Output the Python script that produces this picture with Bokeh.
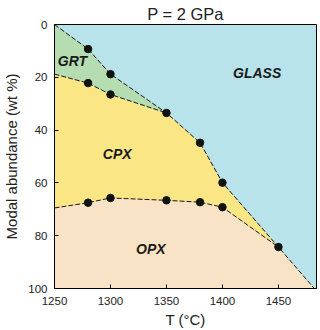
from bokeh.plotting import figure
from bokeh.models import Range1d, FixedTicker, Label
from bokeh.embed import file_html
from bokeh.resources import INLINE

# ---- data ----
# GLASS boundary (upper edge of the solid assemblage)
t_glass = [1250, 1280, 1300, 1350, 1380, 1400, 1450, 1482]
v_glass = [0, 9.3, 18.8, 33.5, 44.8, 59.9, 84.3, 100]
# GRT / CPX boundary
t_grt = [1250, 1280, 1300, 1350]
v_grt = [18.8, 22.2, 26.5, 33.5]
# CPX / OPX boundary
t_opx = [1250, 1280, 1300, 1350, 1380, 1400, 1450]
v_opx = [69.5, 67.5, 65.7, 66.6, 67.3, 69.2, 84.3]

x_ticks = [1250, 1300, 1350, 1400, 1450]
y_ticks = [0, 20, 40, 60, 80, 100]
region_names = ["GRT", "GLASS", "CPX", "OPX"]

C_GLASS = "#b9e3ea"
C_GRT = "#b6dcb2"
C_CPX = "#fbe686"
C_OPX = "#f9e3c6"
FONT = "Liberation Sans"
TXT = "#222222"

p = figure(width=320, height=330, output_backend="svg", toolbar_location=None,
           x_range=Range1d(1250, 1484), y_range=Range1d(100, 0),
           min_border_left=49, min_border_right=4, min_border_top=24,
           min_border_bottom=42, title="P = 2 GPa")
p.title.text_font = FONT
p.title.text_font_size = "16.5px"
p.title.text_font_style = "normal"
p.title.text_color = TXT
p.title.align = "center"
p.title.text_line_height = 0.75
p.title.standoff = 4

p.background_fill_color = C_GLASS
p.border_fill_color = "white"
p.outline_line_color = "black"
p.outline_line_width = 1
p.grid.visible = False

# regions
opx_x = t_opx + [t_glass[-1], t_opx[0]]
opx_y = v_opx + [100, 100]
cpx_x = t_opx + t_glass[5:2:-1] + t_grt[-2::-1]
cpx_y = v_opx + v_glass[5:2:-1] + v_grt[-2::-1]
grt_x = t_grt + t_glass[2::-1]
grt_y = v_grt + v_glass[2::-1]
p.patch(opx_x, opx_y, fill_color=C_OPX, line_color=None)
p.patch(cpx_x, cpx_y, fill_color=C_CPX, line_color=None)
p.patch(grt_x, grt_y, fill_color=C_GRT, line_color=None)

# dashed boundaries
for xs, ys in [(t_glass, v_glass), (t_grt, v_grt), (t_opx, v_opx)]:
    p.line(xs, ys, line_color="black", line_width=0.9, line_dash="5 2")

# data points
p.scatter(t_glass[1:-1], v_glass[1:-1], size=7.5, color="#111111")
p.scatter(t_grt[1:3], v_grt[1:3], size=7.5, color="#111111")
p.scatter(t_opx[1:6], v_opx[1:6], size=7.5, color="#111111")

# region labels
pos = {"GRT": (1266, 13.7), "GLASS": (1431, 18.3), "CPX": (1306, 48.9), "OPX": (1336, 85.1)}
for name in region_names:
    x, y = pos[name]
    p.add_layout(Label(x=x, y=y, text=name, text_font=FONT, text_font_size="14px",
                       text_font_style="bold italic", text_color="#1a1a1a",
                       text_align="center", text_baseline="middle"))

# axes
p.xaxis.ticker = FixedTicker(ticks=x_ticks)
p.yaxis.ticker = FixedTicker(ticks=y_ticks)
p.xaxis.axis_label = "T (°C)"
p.yaxis.axis_label = "Modal abundance (wt %)"
for ax in (p.xaxis[0], p.yaxis[0]):
    ax.axis_label_text_font = FONT
    ax.axis_label_text_font_size = "15px"
    ax.axis_label_text_font_style = "normal"
    ax.axis_label_text_color = TXT
    ax.major_label_text_font = FONT
    ax.major_label_text_font_size = "11.5px"
    ax.major_label_text_color = TXT
    ax.major_tick_in = 4
    ax.major_tick_out = 0
    ax.minor_tick_in = 0
    ax.minor_tick_out = 0
    ax.axis_line_color = "black"
    ax.major_tick_line_color = "black"
p.xaxis.major_label_standoff = 8
p.xaxis.axis_label_standoff = 3
p.yaxis.major_label_standoff = 7
p.yaxis.axis_label_standoff = 5

open("out.html", "w").write(file_html(p, INLINE))
